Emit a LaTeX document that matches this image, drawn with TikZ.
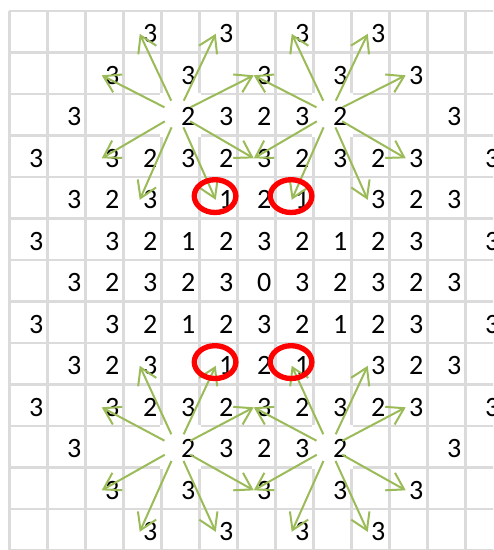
\documentclass[tikz,border=0pt]{standalone}
\usepackage{fontspec}
\setmainfont{Carlito}
\usetikzlibrary{arrows.meta}
\definecolor{knightgreen}{HTML}{9BBB59}

\begin{document}
\begin{tikzpicture}[x=28.5pt,y=31.125pt,
    num/.style={font=\fontsize{21}{25}\selectfont, inner xsep=2.25pt, inner ysep=0pt},
    arr/.style={knightgreen, line width=1.5pt, shorten <=11pt, -{Straight Barb[length=12pt,width=15pt]}},
    ring/.style={red, line width=4pt}]
      \useasboundingbox (-0.25,0.265) rectangle (12.724,-12.988);
      \begin{scope}
        \clip (-0.25,0.265) rectangle (12.724,-12.988);
        \draw[gray!28, line width=1.6pt, step=1] (0,-13) grid (13,0);
        \foreach \r/\c in {2/4,2/8,10/4,10/8}
          \fill[white] (\c-0.03,-\r+0.03) rectangle (\c+1.03,-\r-1.03);
        \foreach \r/\row in {
            0/{3/3,5/3,7/3,9/3},
            1/{2/3,4/3,6/3,8/3,10/3},
            2/{1/3,4/2,5/3,6/2,7/3,8/2,11/3},
            3/{0/3,2/3,3/2,4/3,5/2,6/3,7/2,8/3,9/2,10/3,12/3},
            4/{1/3,2/2,3/3,5/1,6/2,7/1,9/3,10/2,11/3},
            5/{0/3,2/3,3/2,4/1,5/2,6/3,7/2,8/1,9/2,10/3,12/3},
            6/{1/3,2/2,3/3,4/2,5/3,6/0,7/3,8/2,9/3,10/2,11/3},
            7/{0/3,2/3,3/2,4/1,5/2,6/3,7/2,8/1,9/2,10/3,12/3},
            8/{1/3,2/2,3/3,5/1,6/2,7/1,9/3,10/2,11/3},
            9/{0/3,2/3,3/2,4/3,5/2,6/3,7/2,8/3,9/2,10/3,12/3},
            10/{1/3,4/2,5/3,6/2,7/3,8/2,11/3},
            11/{2/3,4/3,6/3,8/3,10/3},
            12/{3/3,5/3,7/3,9/3}}
          \foreach \c/\v in \row
            \node[num] (n\r-\c) at (\c+0.7,-\r-0.55) {\v};
        \coordinate (hub2-4) at (4.42,-2.48);
        \coordinate (hub2-8) at (8.42,-2.48);
        \coordinate (hub10-4) at (4.42,-10.52);
        \coordinate (hub10-8) at (8.42,-10.52);
        \foreach \t in {0-3,0-5,1-2,1-6,3-2,3-6,4-3,4-5}
          \draw[arr] (hub2-4) -- (n\t.west);
        \foreach \t in {0-7,0-9,1-6,1-10,3-6,3-10,4-7,4-9}
          \draw[arr] (hub2-8) -- (n\t.west);
        \foreach \t in {8-3,8-5,9-2,9-6,11-2,11-6,12-3,12-5}
          \draw[arr] (hub10-4) -- (n\t.west);
        \foreach \t in {8-7,8-9,9-6,9-10,11-6,11-10,12-7,12-9}
          \draw[arr] (hub10-8) -- (n\t.west);
        \foreach \r in {4,8}
          \foreach \c in {5,7}
            \draw[ring] (\c+0.41,-\r-0.46) ellipse [x radius=15.6pt, y radius=12.3pt];
      \end{scope}
    \end{tikzpicture}
\end{document}
